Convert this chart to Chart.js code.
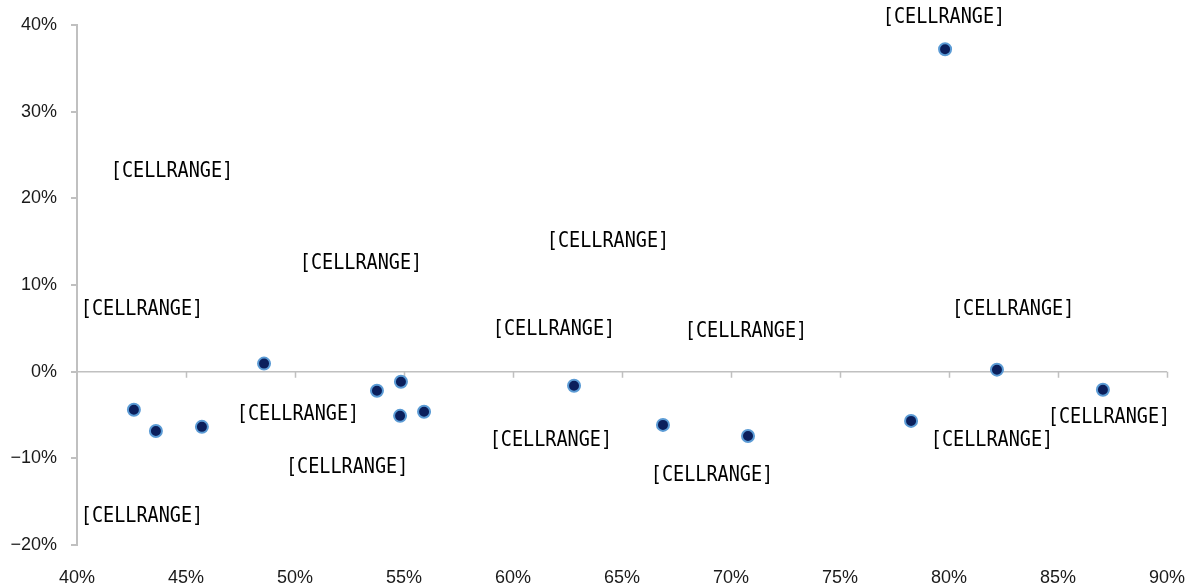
<!DOCTYPE html>
<html>
<head>
<meta charset="utf-8">
<script src="https://cdn.jsdelivr.net/npm/chart.js@4/dist/chart.umd.min.js"></script>
<style>
  html, body { margin: 0; padding: 0; background: #ffffff; }
  #wrap { width: 1195px; height: 587px; }
</style>
</head>
<body>
<div id="wrap"><canvas id="c" width="1195" height="587"></canvas></div>
<script>
// Point values, in percent
const shareX = [42.61, 43.62, 45.73, 48.58, 53.76, 54.86, 54.82, 55.92, 62.80, 66.88, 70.78, 78.26, 79.82, 82.20, 87.06];
const changeY = [-4.40, -6.84, -6.37, 0.93, -2.20, -1.16, -5.10, -4.63, -1.62, -6.14, -7.42, -5.68, 37.2, 0.23, -2.09];

// Where each point's label sits, in the same axis units
const labelX = [42.98, 42.98, 44.36, 53.03, 50.14, 61.88, 52.39, 64.36, 61.74, 70.69, 69.13, 81.97, 79.77, 82.94, 87.34];
const labelY = [7.18, -16.69, 23.06, 12.51, -4.98, 4.87, -11.12, 15.06, -8.00, 4.63, -11.94, -8.00, 40.90, 7.18, -5.33];
const labelText = Array(shareX.length).fill('[CELLRANGE]');

// Axis ranges and tick steps
const xRange = [40, 90], xStep = 5;
const yRange = [-20, 40], yStep = 10;

const axisGray = '#c0c0c0';
const pct = v => (v < 0 ? '\u2212' + Math.abs(v) : String(v)) + '%';

// Horizontal axis line at zero with short tick marks hanging below it
const zeroAxis = {
  id: 'zeroAxis',
  beforeDatasetsDraw(chart) {
    const { ctx, scales: { x, y } } = chart;
    const y0 = y.getPixelForValue(0);
    ctx.save();
    ctx.strokeStyle = axisGray;
    ctx.lineWidth = 1.5;
    ctx.beginPath();
    ctx.moveTo(x.left, y0);
    ctx.lineTo(x.right, y0);
    for (let v = xRange[0] + xStep; v <= xRange[1]; v += xStep) {
      const px = Math.round(x.getPixelForValue(v)) + 0.5;
      ctx.moveTo(px, y0);
      ctx.lineTo(px, y0 + 6);
    }
    ctx.stroke();
    ctx.restore();
  }
};

// Text labels for each point, in a narrow monospace face
const pointLabels = {
  id: 'pointLabels',
  afterDatasetsDraw(chart) {
    const { ctx, scales: { x, y } } = chart;
    const squeeze = 0.88;
    ctx.save();
    ctx.font = '21px "DejaVu Sans Mono", "Liberation Mono", monospace';
    ctx.fillStyle = '#000000';
    ctx.textAlign = 'center';
    ctx.textBaseline = 'middle';
    labelText.forEach((t, i) => {
      const px = x.getPixelForValue(labelX[i]);
      const py = y.getPixelForValue(labelY[i]);
      ctx.save();
      ctx.translate(px, py);
      ctx.scale(squeeze, 1);
      ctx.fillText(t, 0, 0);
      ctx.restore();
    });
    ctx.restore();
  }
};

new Chart(document.getElementById('c'), {
  type: 'scatter',
  data: {
    datasets: [{
      data: shareX.map((v, i) => ({ x: v, y: changeY[i] })),
      pointRadius: 6,
      pointHoverRadius: 6,
      pointBackgroundColor: '#0b1f5c',
      pointBorderColor: '#5b9bd5',
      pointBorderWidth: 2
    }]
  },
  options: {
    responsive: false,
    animation: false,
    layout: { padding: { top: 25, right: 28, left: 0, bottom: 0 } },
    plugins: { legend: { display: false }, tooltip: { enabled: false } },
    scales: {
      x: {
        type: 'linear',
        min: xRange[0], max: xRange[1],
        afterFit: s => { s.height = 42; s.paddingLeft = 0; s.paddingRight = 0; },
        border: { display: false },
        grid: { display: false, drawTicks: false },
        ticks: {
          stepSize: xStep,
          padding: 22,
          color: '#1a1a1a',
          font: { family: '"Liberation Sans", Arial, sans-serif', size: 18 },
          callback: v => pct(v),
          maxRotation: 0
        }
      },
      y: {
        type: 'linear',
        min: yRange[0], max: yRange[1],
        afterFit: s => { s.width = 77; },
        border: { display: true, color: axisGray, width: 2 },
        grid: { drawOnChartArea: false, drawTicks: true, tickLength: 6, color: axisGray, lineWidth: 2 },
        ticks: {
          stepSize: yStep,
          padding: 14,
          color: '#1a1a1a',
          font: { family: '"Liberation Sans", Arial, sans-serif', size: 18 },
          callback: v => pct(v)
        }
      }
    }
  },
  plugins: [zeroAxis, pointLabels]
});
</script>
</body>
</html>
